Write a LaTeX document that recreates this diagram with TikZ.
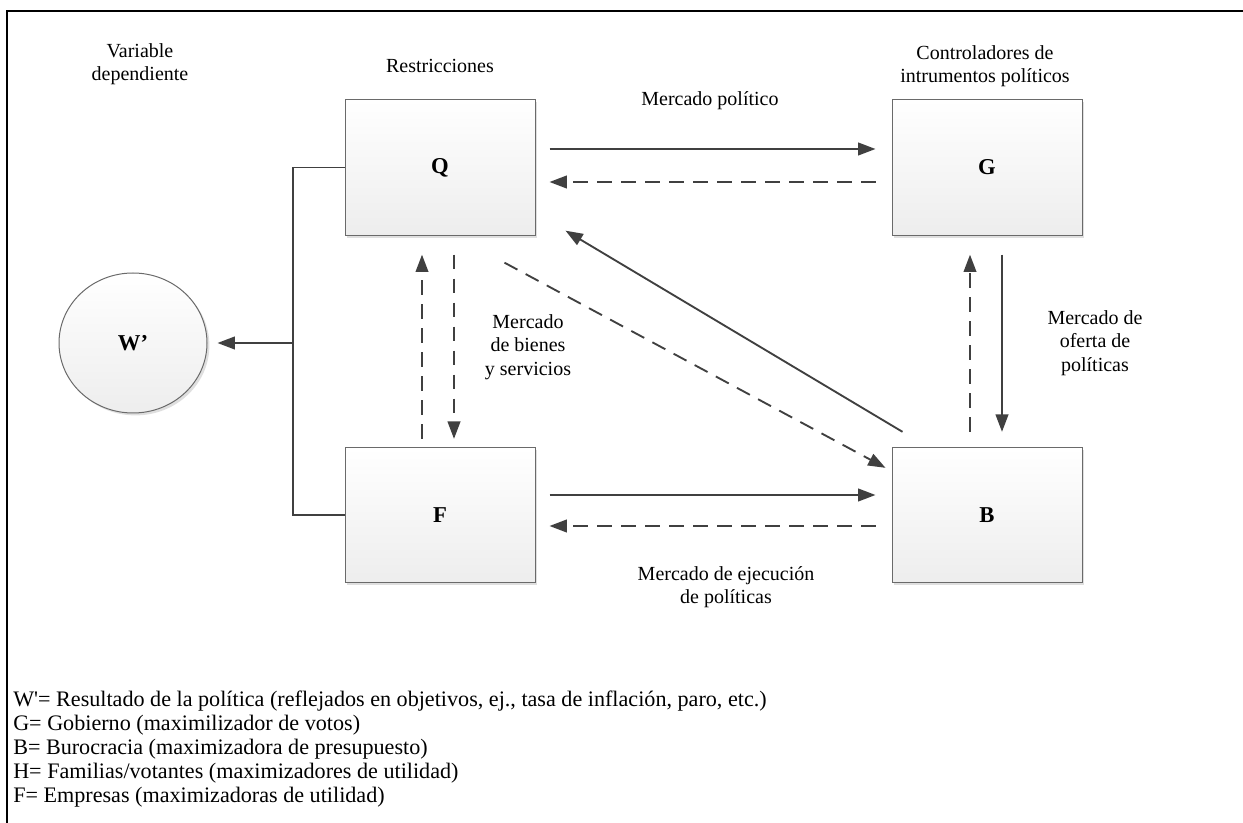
\documentclass[tikz,border=0pt]{standalone}
\usepackage{fontspec}
\setmainfont{Liberation Serif}
\newfontfamily\keyfont{Liberation Serif}
\usetikzlibrary{arrows.meta,calc,shapes.geometric,shadows}
\definecolor{linegray}{HTML}{404040}
\definecolor{boxedge}{HTML}{6A6A6A}
\tikzset{
  agent/.style={draw=boxedge, line width=0.75pt, shading=axis, top color=white, bottom color=black!7,
    minimum width=142.5pt, minimum height=101.5pt, inner sep=0pt,
    font=\fontsize{17}{18}\selectfont\bfseries,
    drop shadow={shadow xshift=1.8pt, shadow yshift=-1.8pt, fill=black!25, opacity=.5}},
  result/.style={ellipse, draw=boxedge, line width=0.75pt, shading=axis, top color=white, bottom color=black!7,
    minimum width=111pt, minimum height=105pt, inner sep=0pt,
    font=\fontsize{17}{18}\selectfont\bfseries,
    drop shadow={shadow xshift=1.8pt, shadow yshift=-1.8pt, fill=black!25, opacity=.5}},
  caption/.style={align=center, font=\fontsize{15}{17.6}\selectfont, inner sep=0pt},
  flow/.style={draw=linegray, line width=1.4pt, -{Triangle[length=13pt,width=9.5pt]}},
  backflow/.style={flow, dash pattern=on 11pt off 7pt},
  tie/.style={draw=linegray, line width=1.1pt},
  legend/.style={anchor=west, font=\keyfont\fontsize{16.6}{18}\selectfont, inner sep=0pt}
}
\begin{document}
\begin{tikzpicture}[x=0.75pt, y=-0.75pt]
\useasboundingbox (0,0) rectangle (1243,823);

% outer frame (top and left edges)
\draw[line width=1.9pt] (7,823) -- (7,11) -- (1243,11);

% agents
\node[agent] (Q) at (440,167.5) {Q};
\node[agent] (G) at (987,167.5) {G};
\node[agent] (F) at (440,515) {F};
\node[agent] (B) at (987,515) {B};
\node[result] (W) at (133,343) {W’};

% headings
\node[caption] (tW) at (140,64) {Variable\\dependiente};
\node[caption] (tQ) at (440,66) {Restricciones};
\node[caption] (tG) at (985,66) {Controladores de\\intrumentos políticos};

% market labels
\node[caption] (mP) at (710,101) {Mercado político};
\node[caption] (mS) at (528,347) {Mercado\\de bienes\\y servicios};
\node[caption] (mO) at (1095,343) {Mercado de\\oferta de\\políticas};
\node[caption] (mE) at (726,587) {Mercado de ejecución\\de políticas};

% Q -- G
\draw[flow] ($(Q.east)+(14,-18.5)$) -- ($(G.west)+(-16,-18.5)$);
\draw[backflow] ($(G.west)+(-16,14.5)$) -- ($(Q.east)+(14,14.5)$);

% F -- B
\draw[flow] ($(F.east)+(14,-20)$) -- ($(B.west)+(-16,-20)$);
\draw[backflow] ($(B.west)+(-16,11)$) -- ($(F.east)+(14,11)$);

% Q -- F
\draw[backflow] ($(F.north)+(-18,-8)$) -- ($(Q.south)+(-18,19)$);
\draw[backflow] ($(Q.south)+(14,19)$) -- ($(F.north)+(14,-8)$);

% G -- B
\draw[backflow] ($(B.north)+(-17,-15)$) -- ($(G.south)+(-17,19)$);
\draw[flow] ($(G.south)+(15,19)$) -- ($(B.north)+(15,-15)$);

% diagonals
\draw[backflow] ($(Q.south east)+(-31,27)$) -- ($(B.north west)+(-6,21)$);
\draw[flow] ($(B.north west)+(11,-15)$) -- ($(Q.south east)+(30,-5)$);

% Q and F feed the dependent variable
\coordinate (J) at (293,343);
\draw[tie] (Q.west) -| (J) |- (F.west);
\draw[flow] (J) -- ($(W.east)+(10,0)$);

% key
\node[legend] (k1) at (13,701) {W'= Resultado de la política (reflejados en objetivos, ej., tasa de inflación, paro, etc.)};
\node[legend] (k2) at (13,725) {G= Gobierno (maximilizador de votos)};
\node[legend] (k3) at (13,749) {B= Burocracia (maximizadora de presupuesto)};
\node[legend] (k4) at (13,773) {H= Familias/votantes (maximizadores de utilidad)};
\node[legend] (k5) at (13,797) {F= Empresas (maximizadoras de utilidad)};
\end{tikzpicture}
\end{document}
